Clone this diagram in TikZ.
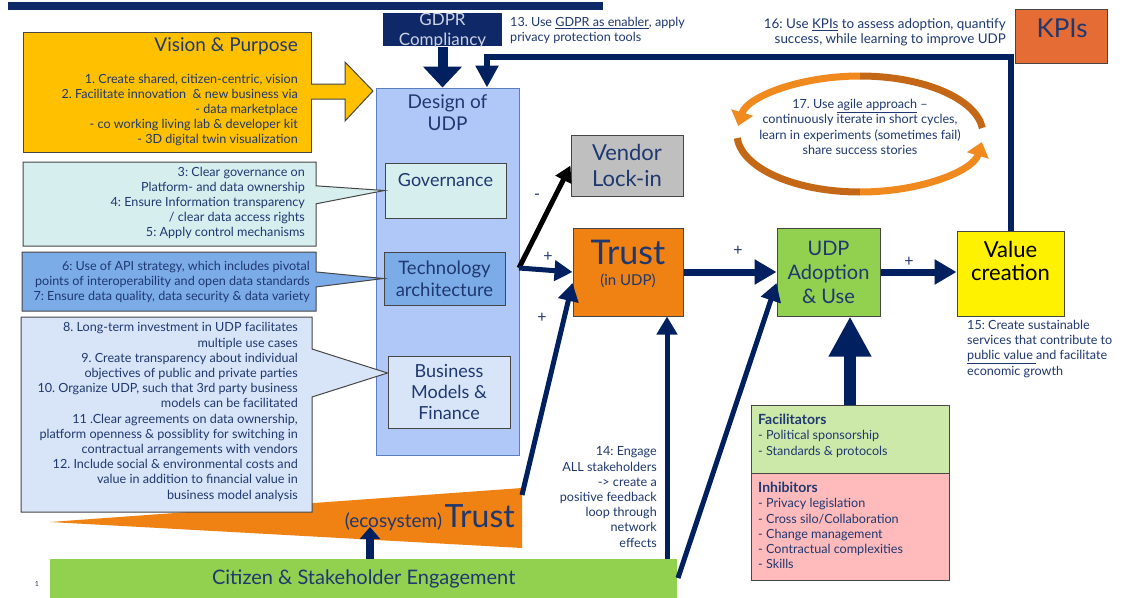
\documentclass[tikz,border=0pt]{standalone}
\usepackage{fontspec}
\setmainfont{Lato}
\usetikzlibrary{arrows.meta,shapes.callouts}

\definecolor{navy}{RGB}{0,32,96}
\definecolor{txtblue}{RGB}{31,56,112}
\definecolor{gold}{RGB}{255,192,0}
\definecolor{govfill}{RGB}{214,238,238}
\definecolor{techfill}{RGB}{124,172,232}
\definecolor{bizfill}{RGB}{216,229,248}
\definecolor{designfill}{RGB}{176,200,247}
\definecolor{designline}{RGB}{90,125,190}
\definecolor{trustorange}{RGB}{239,130,19}
\definecolor{kpiorange}{RGB}{229,108,53}
\definecolor{udpgreen}{RGB}{146,208,80}
\definecolor{vendorgray}{RGB}{191,191,191}
\definecolor{facgreen}{RGB}{205,233,170}
\definecolor{inhred}{RGB}{255,187,187}
\definecolor{gdprblue}{RGB}{14,40,104}
\definecolor{gdprtext}{RGB}{205,210,225}
\definecolor{agiledark}{RGB}{196,103,22}
\definecolor{agilelight}{RGB}{240,138,30}
\definecolor{boxline}{RGB}{70,70,70}

\newcommand{\notesize}{\fontsize{12.6}{15.2}\selectfont}
\newcommand{\headsize}{\fontsize{14}{15.2}\selectfont}

\begin{document}
\frenchspacing
\begin{tikzpicture}[x=1pt,y=-1pt,
  boxnode/.style={draw=boxline,line width=1pt,inner sep=0pt,text=txtblue,align=center},
  notetext/.style={text=txtblue,font=\notesize,inner sep=0pt},
  callshape/.style={rectangle callout,draw=boxline,line width=1pt,inner sep=0pt},
  signtext/.style={text=txtblue,font=\fontsize{16}{16}\selectfont,inner sep=0pt},
  navylink/.style={navy,line width=5pt,-{Triangle[length=18pt,width=20pt]}},
  widelink/.style={navy,line width=7pt,-{Triangle[length=22pt,width=24pt]}},
  blacklink/.style={black,line width=5pt,-{Triangle[length=16pt,width=17pt]}},
  agilearc/.style={line width=7pt}]
\useasboundingbox (0,0) rectangle (1135,597);
\fill[white] (0,0) rectangle (1135,597);
\fill[gdprblue] (8,2) rectangle (603,10);

% ecosystem trust wedge
\fill[trustorange] (50,522) -- (522,488) -- (522,548) -- cycle;
\node[text=txtblue,inner sep=0pt,anchor=base east] (ecotrust) at (515,527) {{\fontsize{19}{19}\selectfont (ecosystem)} {\fontsize{32}{32}\selectfont Trust}};

% citizen bar
\node[fill=udpgreen,minimum width=627pt,minimum height=40pt,inner sep=0pt,anchor=north west,text=txtblue,font=\fontsize{20}{20}\selectfont] (citizen) at (50,559) {Citizen \& Stakeholder Engagement};
\node[text=txtblue,font=\fontsize{7}{7}\selectfont] (pagenum) at (37,584) {1};

% design of UDP
\node[boxnode,draw=designline,fill=designfill,minimum width=143pt,minimum height=367pt] (design) at (447.5,271.5) {};
\node[text=txtblue,align=center,font=\fontsize{19}{22}\selectfont] (designtitle) at (447.5,113) {Design of\\UDP};
\node[boxnode,fill=govfill,minimum width=121pt,minimum height=55pt] (gov) at (445.5,190.5) {};
\node[text=txtblue,font=\fontsize{18}{22}\selectfont] (govtitle) at (445.5,180) {Governance};
\node[boxnode,fill=techfill,minimum width=121pt,minimum height=53pt,font=\fontsize{18.5}{22}\selectfont] (tech) at (444.5,278.5) {Technology\\architecture};
\node[boxnode,fill=bizfill,minimum width=122pt,minimum height=72pt,font=\fontsize{18}{21}\selectfont] (biz) at (449,392) {Business\\Models \&\\Finance};

% callouts
\node[callshape,fill=govfill,minimum width=293pt,minimum height=84pt,
  callout absolute pointer={(gov.west)},callout pointer width=18pt] (govnote) at (169.5,204) {};
\node[notetext,anchor=east,align=right] (govtext) at (305,203)
  {3: Clear governance on\\ Platform- and data ownership\\ 4: Ensure Information transparency\\ / clear data access rights\\ 5: Apply control mechanisms};
\node[callshape,fill=techfill,minimum width=294pt,minimum height=59pt,
  callout absolute pointer={(tech.west)},callout pointer width=15pt] (technote) at (169,281.5) {};
\node[notetext,anchor=east,align=right] (techtext) at (310,282)
  {6: Use of API strategy, which includes pivotal\\ points of interoperability and open data standards\\ 7: Ensure data quality, data security \& data variety};
\filldraw[fill=bizfill,draw=boxline,line width=1pt] (21,317) -- (312,317) -- (312,349) -- ([yshift=19pt]biz.west) -- (312,397) -- (312,512) -- (21,512) -- cycle;
\node[notetext,anchor=east,align=right] (biztext) at (298,412)
  {8. Long-term investment in UDP facilitates\\ multiple use cases\\ 9. Create transparency about individual\\ objectives of public and private parties\\ 10. Organize UDP, such that 3rd party business\\ models can be facilitated\\ 11 .Clear agreements on data ownership,\\ platform openness \& possiblity for switching in\\ contractual arrangements with vendors\\ 12. Include social \& environmental costs and\\ value in addition to financial value in\\ business model analysis};

% vision and purpose
\node[boxnode,fill=gold,minimum width=288pt,minimum height=120pt] (vision) at (167,92) {};
\fill[gold] (310,84) -- (345,84) -- (345,62) -- (373,91) -- (345,121) -- (345,99) -- (310,99) -- cycle;
\draw[boxline,line width=1pt] (311,84) -- (345,84) -- (345,62) -- (373,91) -- (345,121) -- (345,99) -- (311,99);
\node[notetext,anchor=east,font=\fontsize{19}{19}\selectfont] (visiontitle) at (298,46) {Vision \& Purpose};
\node[notetext,anchor=east,align=right] (visiontext) at (298,110) {1. Create shared, citizen-centric, vision\\ 2. Facilitate innovation \ \& new business via\\ - data marketplace\\ - co working living lab \& developer kit\\ - 3D digital twin visualization};

% gdpr
\node[boxnode,draw=none,fill=gdprblue,minimum width=119pt,minimum height=33pt] (gdpr) at (442.5,29.5) {};
\begin{scope}
\clip (gdpr.south west) rectangle (gdpr.north east);
\node[text=gdprtext,align=center,inner sep=0pt,font=\fontsize{17}{20}\selectfont] (gdprtitle) at (442.5,31) {GDPR\\Compliancy};
\end{scope}
\node[notetext,anchor=west,align=left] (gdprnote) at (510,30.5) {13. Use \underline{GDPR as enabler}, apply\\ privacy protection tools};

% main chain
\node[boxnode,fill=vendorgray,minimum width=112pt,minimum height=61pt,font=\fontsize{22}{26}\selectfont] (vendor) at (627,165.5) {Vendor\\Lock-in};
\node[boxnode,fill=trustorange,minimum width=110pt,minimum height=88pt] (trust) at (628,272) {};
\node[text=txtblue,font=\fontsize{34}{34}\selectfont,inner sep=0pt] (trusttitle) at (628,252) {Trust};
\node[text=txtblue,font=\fontsize{15}{15}\selectfont,inner sep=0pt] (trustsub) at (628,281) {(in UDP)};
\node[boxnode,fill=udpgreen,minimum width=103pt,minimum height=88pt,font=\fontsize{20}{24}\selectfont] (udp) at (828.5,272) {UDP\\Adoption\\\& Use};
\node[boxnode,fill=yellow,minimum width=107pt,minimum height=85pt] (value) at (1010.5,273.5) {};
\node[text=black,align=center,font=\fontsize{22}{23}\selectfont,inner sep=0pt] (valuetitle) at (1010.5,260.5) {Value\\creation};
\node[notetext,anchor=north west,align=left] (valuenote) at (967,320) {15: Create sustainable\\ services that contribute to\\ \underline{public value }and facilitate\\ economic growth};

% kpi loop
\coordinate (kpiturn) at (487,57);
\draw[navy,line width=6pt,-{Triangle[length=22pt,width=22pt]}] (value.north) |- (kpiturn) -- (kpiturn |- design.north);
\node[boxnode,fill=kpiorange,minimum width=92pt,minimum height=54pt] (kpi) at (1061,36) {};
\node[text=txtblue,font=\fontsize{26}{26}\selectfont,inner sep=0pt] (kpititle) at (1062,28) {KPIs};
\node[notetext,anchor=east,align=right,font=\fontsize{13.4}{15.2}\selectfont] (kpinote) at (1006,32.5) {16: Use \underline{KPIs} to assess adoption, quantify\\ success, while learning to improve UDP};

% agile cycle
\coordinate (agilec) at (860,134);
\draw[agilearc,agiledark] ([shift={(-6:123 and 58)}]agilec) arc[start angle=-6,end angle=-90,x radius=123,y radius=58];
\draw[agilearc,agilelight,-{Triangle[length=14pt,width=22pt]}] ([shift={(-90:123 and 58)}]agilec) arc[start angle=-90,end angle=-172,x radius=123,y radius=58];
\draw[agilearc,agiledark] ([shift={(176:123 and 58)}]agilec) arc[start angle=176,end angle=90,x radius=123,y radius=58];
\draw[agilearc,agilelight,-{Triangle[length=14pt,width=22pt]}] ([shift={(90:123 and 58)}]agilec) arc[start angle=90,end angle=8,x radius=123,y radius=58];
\node[notetext,align=center] (agilenote) at (860,127) {17. Use \underline{agile approach} --\\ continuously iterate in short cycles,\\ learn in experiments (sometimes fail)\\ share success stories};

% facilitators and inhibitors
\node[boxnode,fill=facgreen,minimum width=198pt,minimum height=68pt] (fac) at (850,439) {};
\node[boxnode,fill=inhred,minimum width=198pt,minimum height=107pt] (inh) at (850,526.5) {};
\node[notetext,anchor=north west,align=left] (factext) at (758,414) {{\headsize\bfseries Facilitators}\\ - Political sponsorship\\ - Standards \& protocols};
\node[notetext,anchor=north west,align=left] (inhtext) at (758,482) {{\headsize\bfseries Inhibitors}\\ - Privacy legislation\\ - Cross silo/Collaboration\\ - Change management\\ - Contractual complexities\\ - Skills};
\node[notetext,anchor=east,align=right] (engagenote) at (657,497) {14: Engage\\ ALL stakeholders\\ -> create a\\ positive feedback\\ loop through\\ network\\ effects};

% connectors
\coordinate (techout) at (519,268);
\coordinate (ecotop) at (522,495);
\coordinate (ecobase) at (370,527);
\coordinate (citup) at (667,559);
\coordinate (citside) at (678,578);
\draw[navy,line width=10pt,-{Triangle[length=21pt,width=38pt]}] (gdpr.south) -- (gdpr.south |- design.north);
\draw[blacklink] (techout) -- (vendor.west);
\draw[navylink] (techout) -- (trust.west);
\draw[navylink] (ecotop) -- ([yshift=-11pt]trust.west);
\draw[navylink] (citup) -- (citup |- trust.south);
\draw[navylink] (citside) -- ([yshift=-11pt]udp.west);
\draw[widelink] (trust.east) -- (udp.west);
\draw[widelink] (udp.east) -- (udp.east -| value.west);
\draw[navy,line width=12pt,-{Triangle[length=40pt,width=40pt]}] (fac.north) -- (fac.north |- udp.south);
\draw[navy,line width=8pt,-{Triangle[length=12pt,width=20pt]}] (citizen.north -| ecobase) -- (ecobase);
\node[signtext] (plustech) at (548,257) {+};
\node[signtext] (pluseco) at (542,318) {+};
\node[signtext] (minusvendor) at (537,197) {-};
\node[signtext] (plusudp) at (738,251) {+};
\node[signtext] (plusvalue) at (909,262) {+};
\end{tikzpicture}
\end{document}
